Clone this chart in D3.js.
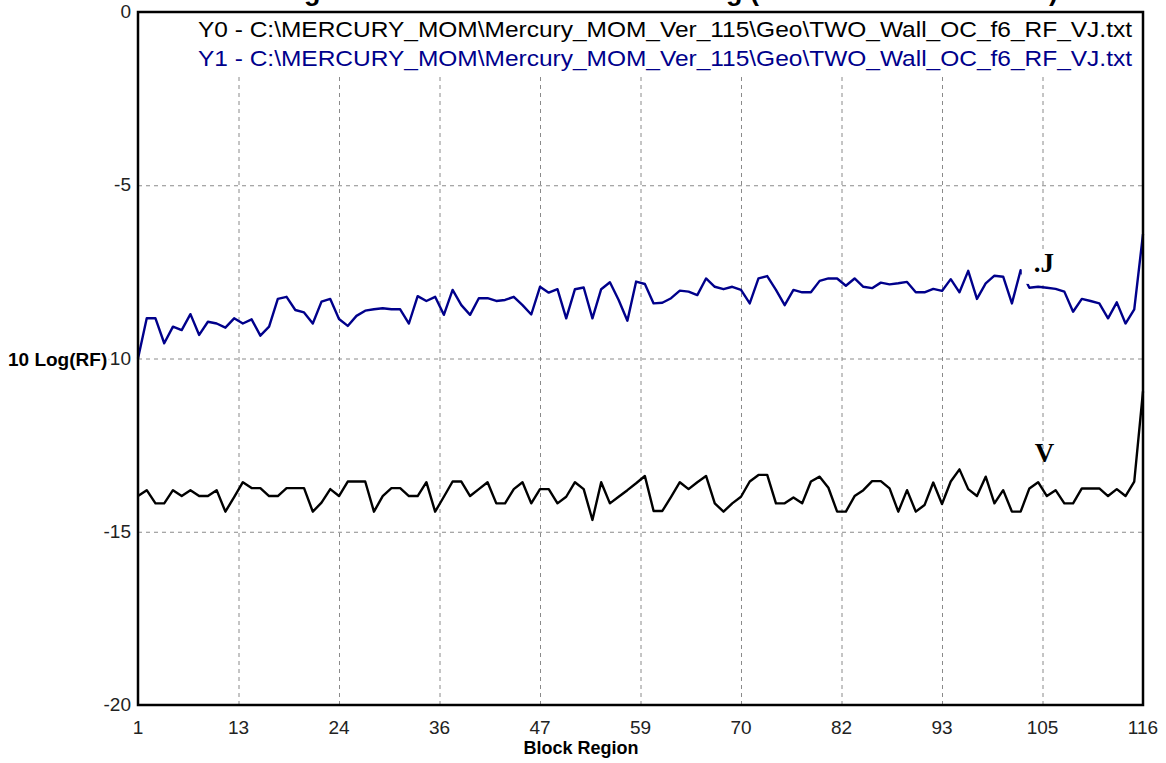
<!DOCTYPE html>
<html>
<head>
<meta charset="utf-8">
<script src="https://cdn.jsdelivr.net/npm/d3@7"></script>
<style>
  body { margin: 0; background: #fff; }
  svg { display: block; }
</style>
</head>
<body>
<div id="chart"></div>
<script>
// ---- data ----
var seriesNames = ["Y0 - C:\\MERCURY_MOM\\Mercury_MOM_Ver_115\\Geo\\TWO_Wall_OC_f6_RF_VJ.txt",
                   "Y1 - C:\\MERCURY_MOM\\Mercury_MOM_Ver_115\\Geo\\TWO_Wall_OC_f6_RF_VJ.txt"];

// Y0 (black, "V")
var valuesV = [-13.97,-13.80,-14.18,-14.18,-13.80,-13.97,-13.80,-13.97,-13.97,-13.80,
  -14.42,-14.00,-13.57,-13.74,-13.74,-13.97,-13.97,-13.74,-13.74,-13.74,
  -14.42,-14.16,-13.77,-13.97,-13.55,-13.55,-13.55,-14.42,-13.97,-13.74,
  -13.74,-13.97,-13.97,-13.57,-14.42,-13.99,-13.55,-13.55,-13.97,-13.77,
  -13.57,-14.18,-14.18,-13.77,-13.57,-14.18,-13.77,-13.77,-14.18,-13.99,
  -13.57,-13.77,-14.66,-13.57,-14.18,-13.99,-13.80,-13.60,-13.39,-14.40,
  -14.40,-13.99,-13.57,-13.77,-13.57,-13.39,-14.18,-14.42,-14.18,-13.99,
  -13.55,-13.36,-13.36,-14.18,-14.18,-14.01,-14.18,-13.55,-13.41,-13.73,
  -14.42,-14.42,-13.97,-13.80,-13.54,-13.54,-13.75,-14.42,-13.80,-14.42,
  -14.23,-13.58,-14.20,-13.55,-13.20,-13.77,-13.97,-13.41,-14.18,-13.80,
  -14.42,-14.42,-13.75,-13.57,-13.97,-13.80,-14.18,-14.18,-13.75,-13.75,
  -13.75,-13.97,-13.77,-13.97,-13.55,-10.95];

// Y1 (blue, "J")
var valuesJ = [-10.00,-8.84,-8.84,-9.56,-9.08,-9.18,-8.72,-9.32,-8.94,-8.99,
  -9.11,-8.84,-8.99,-8.87,-9.34,-9.08,-8.28,-8.22,-8.60,-8.67,
  -8.99,-8.36,-8.28,-8.86,-9.06,-8.77,-8.62,-8.58,-8.55,-8.58,
  -8.58,-8.99,-8.20,-8.34,-8.22,-8.74,-8.02,-8.46,-8.74,-8.26,
  -8.26,-8.34,-8.31,-8.22,-8.46,-8.73,-7.93,-8.10,-8.00,-8.84,
  -8.00,-7.95,-8.84,-8.00,-7.80,-8.31,-8.91,-7.78,-7.85,-8.41,
  -8.39,-8.26,-8.04,-8.07,-8.17,-7.69,-7.93,-8.00,-7.93,-8.02,
  -8.41,-7.69,-7.62,-8.02,-8.46,-8.02,-8.09,-8.09,-7.76,-7.69,
  -7.69,-7.90,-7.69,-7.93,-7.97,-7.81,-7.86,-7.83,-7.79,-8.09,
  -8.09,-7.99,-8.05,-7.71,-8.09,-7.47,-8.28,-7.83,-7.61,-7.64,
  -8.41,-7.45,-7.96,-7.93,-7.96,-7.99,-8.07,-8.65,-8.28,-8.34,
  -8.41,-8.84,-8.38,-8.99,-8.58,-6.41];

var xTicks = [1, 12.5, 24, 35.5, 47, 58.5, 70, 81.5, 93, 104.5, 116];
var xTickLabels = ["1", "13", "24", "36", "47", "59", "70", "82", "93", "105", "116"];
var yTicks = [0, -5, -10, -15, -20];
var curveLabels = [".J", "V"];

// ---- layout ----
var W = 1166, H = 763;
var margin = {top: 12, right: 23, bottom: 58, left: 138},
    width = W - margin.left - margin.right,
    height = H - margin.top - margin.bottom;

var svg = d3.select("#chart")
  .append("svg")
  .attr("width", W)
  .attr("height", H);

var g = svg.append("g")
  .attr("transform", "translate(" + margin.left + "," + margin.top + ")");

var x = d3.scaleLinear().domain([1, 116]).range([0, width]);
var y = d3.scaleLinear().domain([-20, 0]).range([height, 0]);

// title (mostly above the window, only descenders show)
svg.append("text")
  .attr("x", margin.left + width / 2)
  .attr("y", 0)
  .attr("text-anchor", "middle")
  .style("font-family", "Liberation Sans, Arial, sans-serif")
  .style("font-weight", "bold")
  .style("font-size", "27px")
  .text("RF Magnitude of Wall Currents in 10 Log (TWO Wall OC f6 Model)");

// grid
g.append("g")
  .attr("class", "grid")
  .attr("transform", "translate(0," + height + ")")
  .call(d3.axisBottom(x).tickValues(xTicks).tickSize(-height).tickFormat(""))
  .call(function(s) { s.select(".domain").remove(); });

g.append("g")
  .attr("class", "grid")
  .call(d3.axisLeft(y).tickValues(yTicks).tickSize(-width).tickFormat(""))
  .call(function(s) { s.select(".domain").remove(); });

g.selectAll(".grid line")
  .attr("stroke", "#8a8a8a")
  .attr("stroke-width", 1)
  .attr("stroke-dasharray", "4,4");

// legend box hides the grid behind it
g.append("rect")
  .attr("x", 2)
  .attr("y", 1)
  .attr("width", width - 4)
  .attr("height", 60)
  .attr("fill", "#fff");

var legendColors = ["#000000", "#00008b"];
g.selectAll("legendText")
  .data(seriesNames)
  .enter()
  .append("text")
    .attr("x", 60)
    .attr("y", function(d, i) { return 25 + i * 29; })
    .attr("textLength", 934)
    .attr("lengthAdjust", "spacingAndGlyphs")
    .style("font-family", "Liberation Sans, Arial, sans-serif")
    .style("font-size", "22px")
    .style("fill", function(d, i) { return legendColors[i]; })
    .text(function(d) { return d; });

// lines
var line = d3.line()
  .x(function(d, i) { return x(i + 1); })
  .y(function(d) { return y(d); });

g.append("path")
  .datum(valuesV)
  .attr("fill", "none")
  .attr("stroke", "#000")
  .attr("stroke-width", 2.4)
  .attr("stroke-linejoin", "round")
  .attr("d", line);

g.append("path")
  .datum(valuesJ)
  .attr("fill", "none")
  .attr("stroke", "#00008b")
  .attr("stroke-width", 2.4)
  .attr("stroke-linejoin", "round")
  .attr("d", line);

// curve labels, the J one on a white box
var labelPos = [{x: 103.5, y: -7.5}, {x: 103.6, y: -13.0}];
labelPos.forEach(function(p, i) {
  var lx = x(p.x), ly = y(p.y);
  if (i === 0) {
    g.append("rect")
      .attr("x", lx - 12)
      .attr("y", ly - 22)
      .attr("width", 34)
      .attr("height", 34)
      .attr("fill", "#fff");
  }
  g.append("text")
    .attr("x", lx)
    .attr("y", ly)
    .style("font-family", "Liberation Serif, Times New Roman, serif")
    .style("font-weight", "bold")
    .style("font-size", "27px")
    .text(curveLabels[i]);
});

// frame
g.append("rect")
  .attr("x", 0)
  .attr("y", 0)
  .attr("width", width)
  .attr("height", height)
  .attr("fill", "none")
  .attr("stroke", "#000")
  .attr("stroke-width", 2.5);

// tick labels
g.selectAll("xlab")
  .data(xTicks)
  .enter()
  .append("text")
    .attr("x", function(d) { return x(d); })
    .attr("y", height + 29)
    .attr("text-anchor", "middle")
    .style("font-family", "Liberation Sans, Arial, sans-serif")
    .style("font-size", "19px")
    .style("fill", "#222")
    .text(function(d, i) { return xTickLabels[i]; });

g.selectAll("ylab")
  .data(yTicks)
  .enter()
  .append("text")
    .attr("x", -7)
    .attr("y", function(d) { return y(d) + 6; })
    .attr("text-anchor", "end")
    .style("font-family", "Liberation Sans, Arial, sans-serif")
    .style("font-size", "19px")
    .style("fill", "#222")
    .text(function(d) { return d; });

// axis titles
svg.append("text")
  .attr("x", W / 2 - 2)
  .attr("y", H - 9)
  .attr("text-anchor", "middle")
  .style("font-family", "Liberation Sans, Arial, sans-serif")
  .style("font-weight", "bold")
  .style("font-size", "18px")
  .text("Block Region");

svg.append("text")
  .attr("x", 8)
  .attr("y", margin.top + y(-10) + 7)
  .style("font-family", "Liberation Sans, Arial, sans-serif")
  .style("font-weight", "bold")
  .style("font-size", "19px")
  .style("paint-order", "stroke")
  .style("stroke", "#fff")
  .style("stroke-width", 5)
  .text("10 Log(RF)");
</script>
</body>
</html>
